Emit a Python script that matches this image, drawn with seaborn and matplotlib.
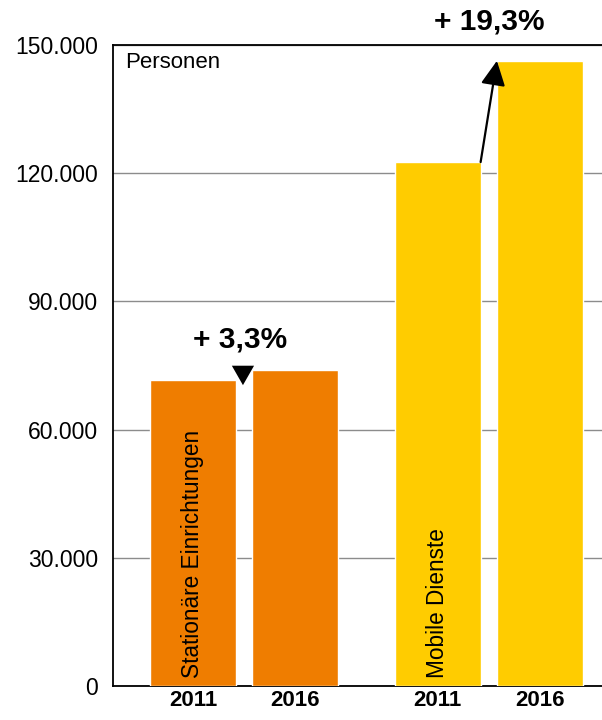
import pandas as pd
import seaborn as sns
import matplotlib.pyplot as plt

# data
groups = ["Stationäre Einrichtungen", "Stationäre Einrichtungen", "Mobile Dienste", "Mobile Dienste"]
years = ["2011", "2016", "2011", "2016"]
persons = [71600, 74000, 122600, 146300]
positions = [0, 1, 2.4, 3.4]
changes = ["+ 3,3%", "+ 19,3%"]
yticks = [0, 30000, 60000, 90000, 120000, 150000]
ytick_labels = ["0", "30.000", "60.000", "90.000", "120.000", "150.000"]

df = pd.DataFrame({"group": groups, "year": years, "persons": persons, "pos": positions})

sns.set_style("white")
plt.rcParams["font.family"] = ["Liberation Sans", "DejaVu Sans"]
plt.rcParams["text.color"] = "black"
plt.rcParams["xtick.color"] = "black"
plt.rcParams["ytick.color"] = "black"

fig = plt.figure(figsize=(6.02, 7.2), dpi=100)
ax = fig.add_axes([113 / 602, 1 - 686 / 720, 1 - 113 / 602, (686 - 45) / 720])

palette = {"Stationäre Einrichtungen": "#EF7D00", "Mobile Dienste": "#FFCC00"}
sns.barplot(data=df, x="pos", y="persons", hue="group", palette=palette,
            native_scale=True, width=0.84, dodge=False, legend=False,
            saturation=1, ax=ax, zorder=3)

ax.set_xlim(-0.784, 4.01)
ax.set_ylim(0, 150000)
ax.set_yticks(yticks)
ax.set_yticklabels(ytick_labels, fontsize=16.5)
ax.set_xticks(positions)
ax.set_xticklabels(years, fontsize=16, fontweight="bold")
ax.tick_params(axis="x", length=0, pad=3)
ax.tick_params(axis="y", length=0, pad=11)
ax.set_xlabel("")
ax.set_ylabel("")
ax.yaxis.grid(True, color="#8c8c8c", linewidth=1)
ax.set_axisbelow(True)

for side in ["left", "bottom", "top"]:
    ax.spines[side].set_color("black")
    ax.spines[side].set_linewidth(1.3)
ax.spines["right"].set_visible(False)

ax.text(-0.667, 144600, "Personen", fontsize=16, va="baseline", ha="left")

# group labels inside the first bar of each group
ax.text(positions[0], 1900, groups[0], rotation=90, fontsize=16.3, ha="center", va="bottom", zorder=4)
ax.text(positions[2], 1900, groups[2], rotation=90, fontsize=16.3, ha="center", va="bottom", zorder=4)

# change arrows and labels
ax.annotate("", xy=(0.49, 70400), xytext=(0.49, 74700),
            arrowprops=dict(arrowstyle="-|>,head_length=1.4,head_width=0.8", color="black",
                            lw=0, shrinkA=0, shrinkB=0),
            zorder=5)
ax.text(0.46, 81000, changes[0], fontsize=21.5, fontweight="bold", ha="center", va="center")

ax.annotate("", xy=(2.98, 146300), xytext=(2.82, 122600),
            arrowprops=dict(arrowstyle="-|>,head_length=1.5,head_width=0.75", color="black",
                            lw=1.6, shrinkA=0, shrinkB=0),
            zorder=5)
ax.text(2.9, 155400, changes[1], fontsize=21.5, fontweight="bold", ha="center", va="center", clip_on=False)

plt.savefig("out.png", dpi=100)
